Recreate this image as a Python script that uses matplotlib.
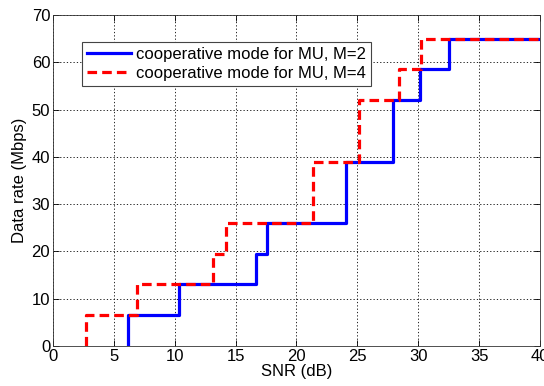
import matplotlib
matplotlib.use("Agg")
import matplotlib.pyplot as plt

rates = [0, 6.5, 13, 19.5, 26, 39, 52, 58.5, 65, 65]
snr_m2 = [6.2, 6.2, 10.35, 16.7, 17.6, 24.1, 27.95, 30.15, 32.5, 40]
snr_m4 = [2.7, 2.7, 6.9, 13.15, 14.25, 21.35, 25.1, 28.4, 30.25, 40]
xticks = [0, 5, 10, 15, 20, 25, 30, 35, 40]
yticks = [0, 10, 20, 30, 40, 50, 60, 70]

plt.rcParams['font.family'] = ['Liberation Sans', 'DejaVu Sans']
plt.rcParams['font.size'] = 12

fig = plt.figure(figsize=(5.44, 3.86), dpi=100)
ax = fig.add_axes([0.0974, 0.104, 0.8952, 0.857])

ax.plot(snr_m2, rates, drawstyle='steps-post', color='#0000ff', lw=2.3,
        label='cooperative mode for MU, M=2')
ax.plot(snr_m4, rates, drawstyle='steps-post', color='#ff0000', lw=2.3,
        ls=(0, (3, 1.6)), label='cooperative mode for MU, M=4')

ax.set_xlim(0, 40)
ax.set_ylim(0, 70)
ax.set_xticks(xticks)
ax.set_yticks(yticks)
ax.grid(True, color='black', ls=(0, (1.5, 2.5)), lw=0.6)
ax.tick_params(direction='in', length=4, width=0.6, top=True, right=True, pad=2)
for s in ax.spines.values():
    s.set_linewidth(0.6)
    s.set_color('#333333')
ax.set_xlabel('SNR (dB)', labelpad=0)
ax.set_ylabel('Data rate (Mbps)', labelpad=3)

leg = ax.legend(loc='upper left', bbox_to_anchor=(0.06, 0.92), fancybox=False,
                framealpha=1, edgecolor='#444444', borderpad=0.3, handlelength=2.6,
                handletextpad=0.3, labelspacing=0.25, borderaxespad=0)
leg.get_frame().set_linewidth(0.8)

fig.savefig('out.png', dpi=100)
